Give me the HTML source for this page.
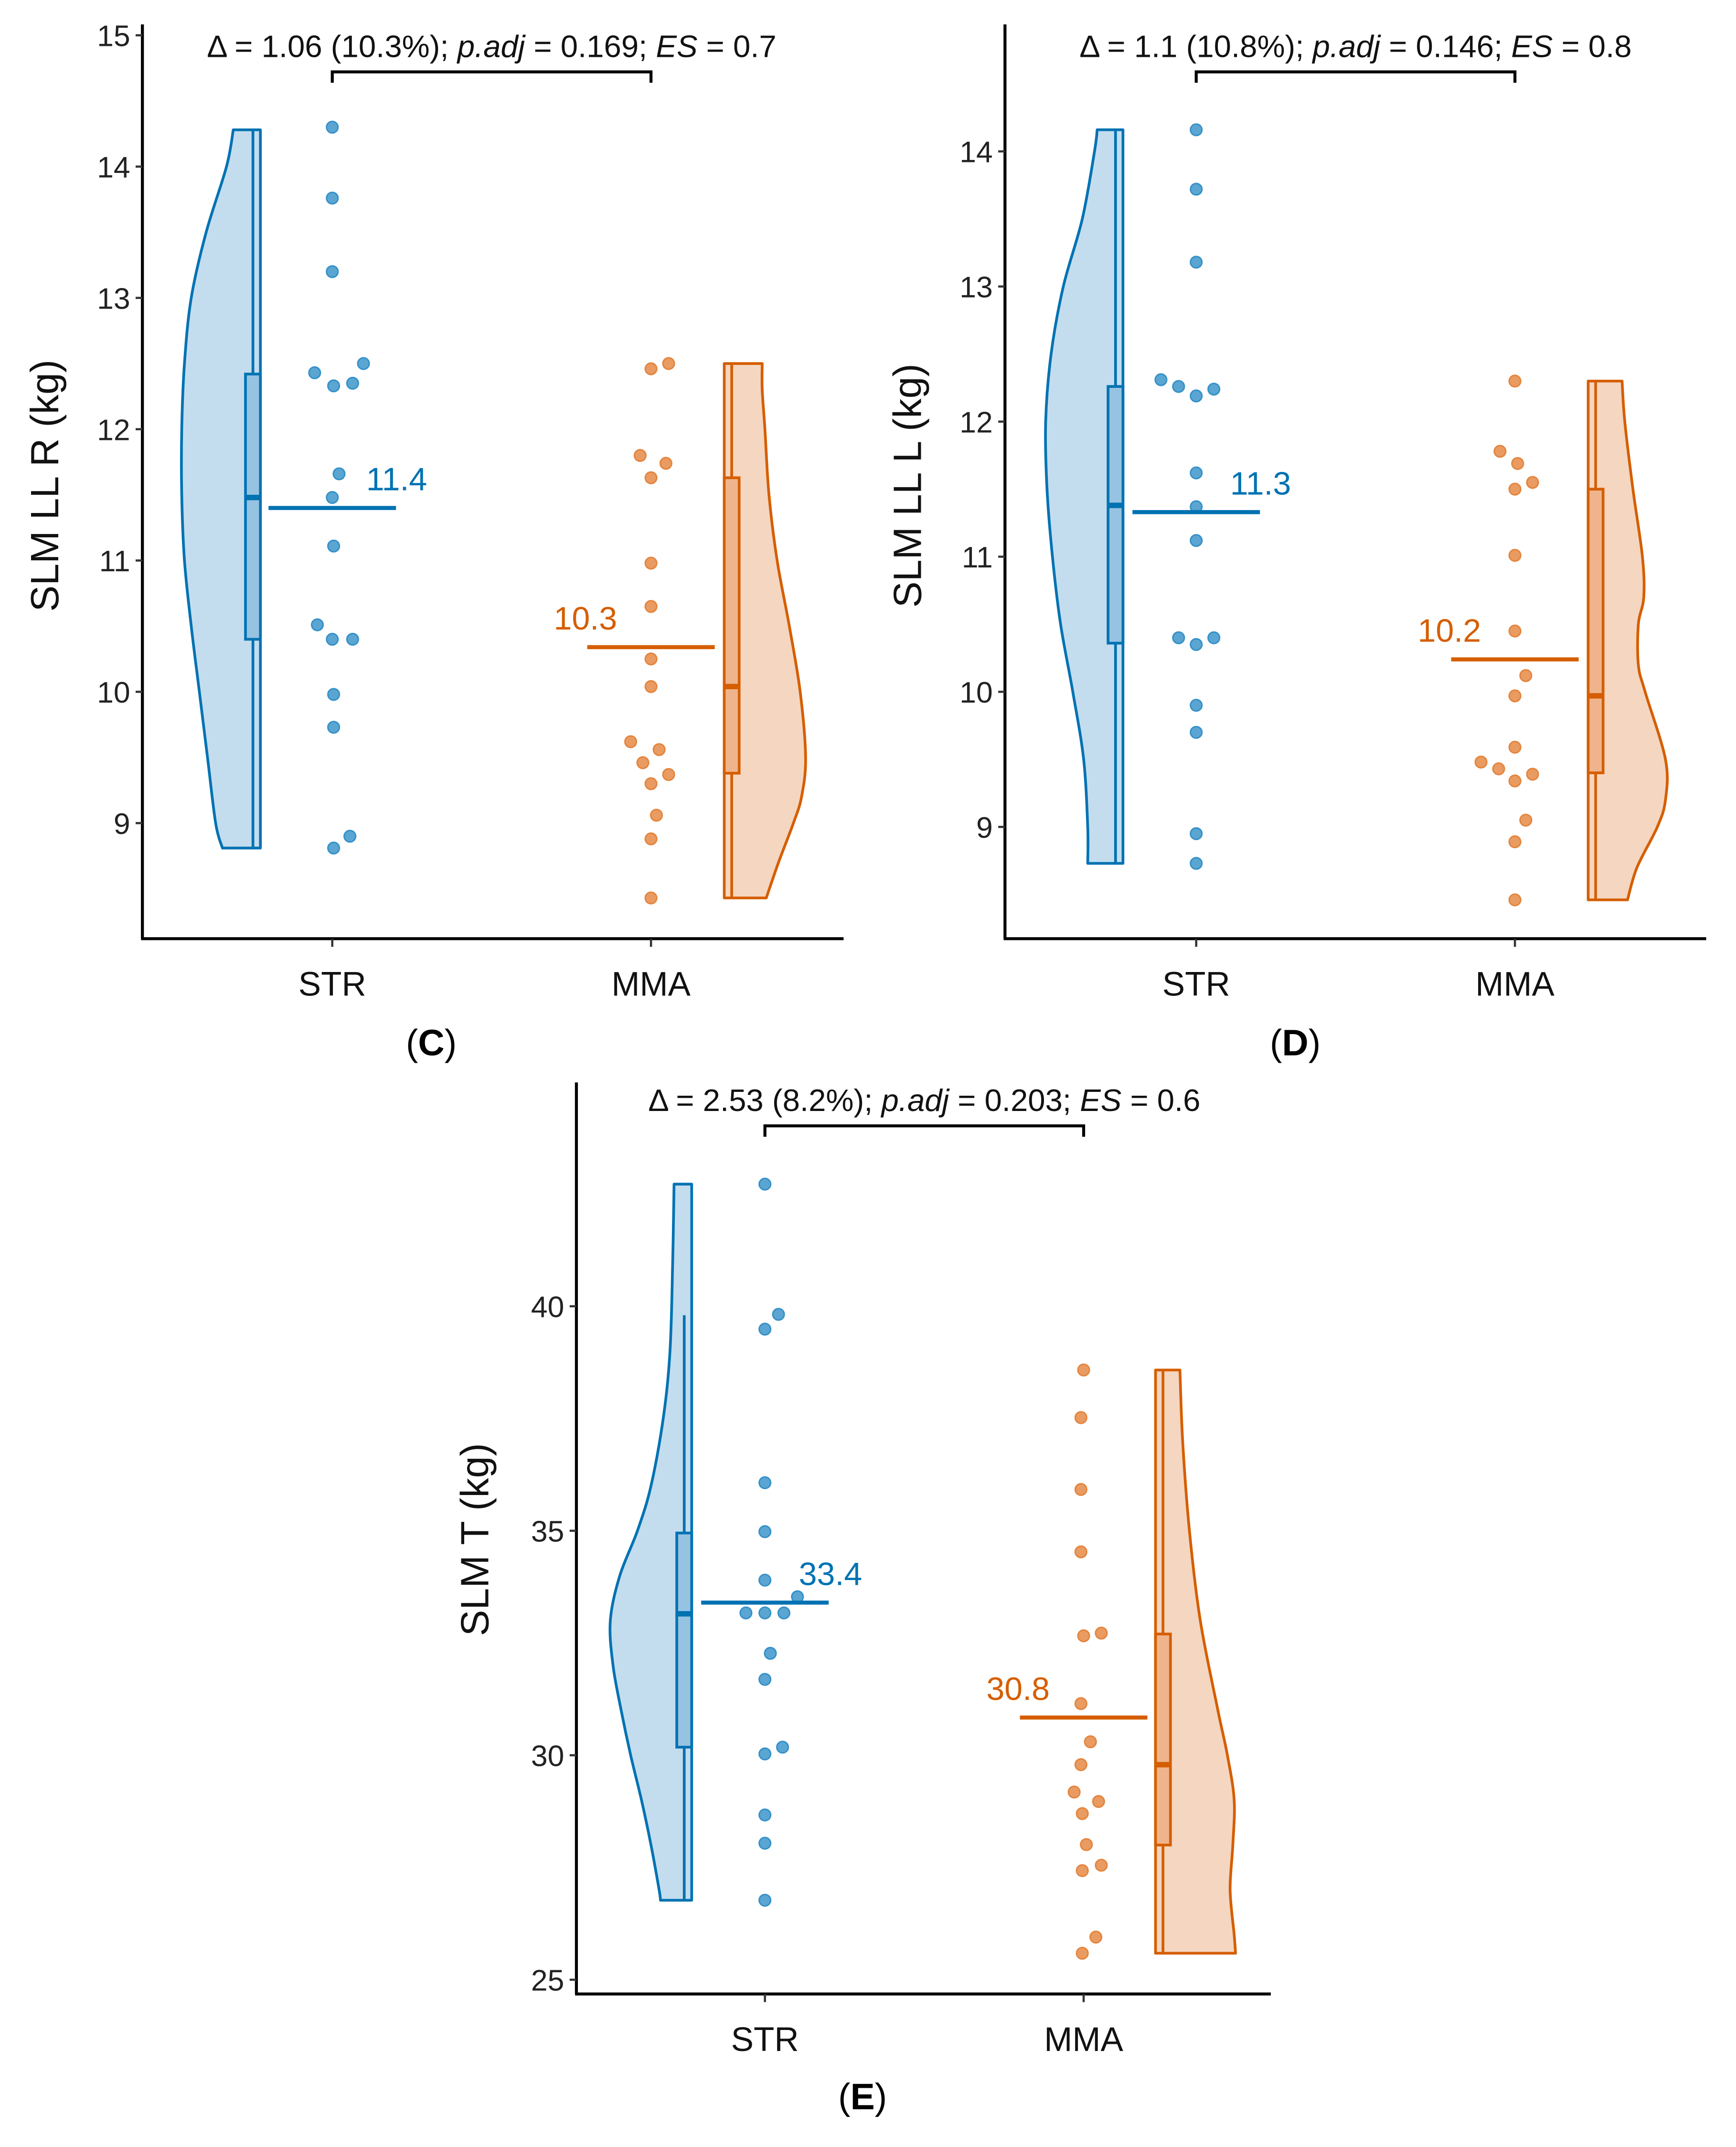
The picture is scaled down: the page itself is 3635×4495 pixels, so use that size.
<!DOCTYPE html>
<html><head><meta charset="utf-8"><style>
html,body{margin:0;padding:0;background:#fff}
svg{display:block}
text{font-family:"Liberation Sans",sans-serif}
</style></head><body>
<svg id="fig" xmlns="http://www.w3.org/2000/svg" width="3635" height="4495" viewBox="0 0 1280 1582.8"></svg>
<script>
// ---- Panel C data ----
const cTicks = [9,10,11,12,13,14,15];
const cStr = [14.30,13.76,13.20,12.43,12.33,12.35,12.50,11.66,11.48,11.11,10.51,10.40,10.40,9.98,9.73,8.90,8.81];
const cStrJit = [0,0,0,-13,1,15,23,5,0,1,-11,0,15,1,1,13,1];
const cMma = [12.46,12.50,11.80,11.74,11.63,10.98,10.65,10.25,10.04,9.62,9.56,9.46,9.37,9.30,9.06,8.88,8.43];
const cMmaJit = [0,13,-8,11,0,0,0,0,0,-15,6,-6,13,0,4,0,0];
const cStrBox = [8.81,10.40,11.48,12.42,14.28];
const cMmaBox = [8.43,9.38,10.04,11.63,12.50];
const cMeans = [11.4,10.34];
const cStrViolin = [[14.28,20],[14,25],[13.5,40],[13,51],[12.5,56],[12,58],[11.5,58],[11,56],[10.5,51],[10,45],[9.5,39],[9,33],[8.81,28]];
const cMmaViolin = [[12.5,28],[12.3,28],[12,30],[11.5,33],[11,39],[10.5,48],[10,56],[9.5,60],[9.2,57],[9,51],[8.7,40],[8.43,31]];
// ---- Panel D data ----
const dTicks = [9,10,11,12,13,14];
const dStr = [14.16,13.72,13.18,12.31,12.26,12.19,12.24,11.62,11.37,11.12,10.40,10.35,10.40,9.90,9.70,8.95,8.73];
const dStrJit = [0,0,0,-26,-13,0,13,0,0,0,-13,0,13,0,0,0,0];
const dMma = [12.30,11.78,11.69,11.50,11.55,11.01,10.45,10.12,9.97,9.59,9.48,9.43,9.34,9.39,9.05,8.89,8.46];
const dMmaJit = [0,-11,2,0,13,0,0,8,0,0,-25,-12,0,13,8,0,0];
const dStrBox = [8.73,10.36,11.38,12.26,14.16];
const dMmaBox = [8.46,9.40,9.97,11.50,12.30];
const dMeans = [11.33,10.24];
const dStrViolin = [[14.16,19],[14,21],[13.5,30],[13,44],[12.5,53],[12,57],[11.5,56],[11,52],[10.5,46],[10,37],[9.5,29],[9,26],[8.73,26]];
const dMmaViolin = [[12.3,25],[12,27],[11.5,33],[11,40],[10.7,41],[10.5,37],[10.2,37],[10,42],[9.5,57],[9.2,57],[9,51],[8.7,36],[8.46,29]];
// ---- Panel E data ----
const eTicks = [25,30,35,40];
const eStr = [42.72,39.82,39.49,36.07,34.98,33.90,33.53,33.17,33.17,33.17,32.27,31.69,30.18,30.03,28.67,28.04,26.77];
const eStrJit = [0,10,0,0,0,0,24,-14,0,14,4,0,13,0,0,0,0];
const eMma = [38.58,37.52,35.92,34.53,32.66,32.72,31.15,30.30,29.79,29.18,28.97,28.70,28.01,27.55,27.43,25.95,25.59];
const eMmaJit = [0,-2,-2,-2,0,13,-2,5,-2,-7,11,-1,2,13,-1,9,-1];
const eStrBox = [26.77,30.18,33.15,34.95,39.8];
const eMmaBox = [25.59,28.0,29.79,32.7,38.58];
const eMeans = [33.4,30.84];
const eStrViolin = [[42.72,13],[41,14],[39,16],[37.5,21],[36,30],[35,40],[34,53],[33,60],[32,58],[31,52],[30,45],[29,37],[28,30],[27,24],[26.77,23]];
const eMmaViolin = [[38.58,18],[37,20],[35,25],[33,33],[31,46],[30,53],[29,58],[28,57],[27,55],[26,58],[25.59,59]];
const labelsC = ["11.4","10.3"], labelsD = ["11.3","10.2"], labelsE = ["33.4","30.8"];

const NS="http://www.w3.org/2000/svg";
const svg=document.getElementById('fig');
const BLUE="#0072B2", ORANGE="#D55E00";
function mk(tag,attrs,parent,txt){const e=document.createElementNS(NS,tag);for(const k in attrs)e.setAttribute(k,attrs[k]);if(txt!==undefined)e.textContent=txt;(parent||svg).appendChild(e);return e;}

function smooth(pts){
  let d=`L${pts[0][0]},${pts[0][1]}`;
  for(let i=0;i<pts.length-1;i++){
    const p0=pts[Math.max(0,i-1)],p1=pts[i],p2=pts[i+1],p3=pts[Math.min(pts.length-1,i+2)];
    const c1=[p1[0]+(p2[0]-p0[0])/6,p1[1]+(p2[1]-p0[1])/6];
    const c2=[p2[0]-(p3[0]-p1[0])/6,p2[1]-(p3[1]-p1[1])/6];
    d+=` C${c1[0]},${c1[1]} ${c2[0]},${c2[1]} ${p2[0]},${p2[1]}`;
  }
  return d;
}

function panel(P){
  const g=mk('g',{});
  
  
  const y=v=>P.y0-(v-P.v0)*P.k;
  const ax=mk('line',{x1:P.ax,y1:P.top,x2:P.ax,y2:P.bottom,stroke:'#000','stroke-width':2.2},g);
  
  const bx=mk('line',{x1:P.ax-1,y1:P.bottom,x2:P.right,y2:P.bottom,stroke:'#000','stroke-width':2.2},g);
  
  P.ticks.forEach(t=>{
    mk('line',{x1:P.ax-5,y1:y(t),x2:P.ax,y2:y(t),stroke:'#333','stroke-width':1.6},g);
    const tl=mk('text',{x:P.ax-9,y:y(t)+8,'text-anchor':'end','font-size':22,fill:'#222'},g,String(t));
    
  });
  [[P.xs,'STR'],[P.xm,'MMA']].forEach(([x,l])=>{
    mk('line',{x1:x,y1:P.bottom,x2:x,y2:P.bottom+6,stroke:'#333','stroke-width':1.6},g);
    const xl=mk('text',{x:x,y:P.bottom+42,'text-anchor':'middle','font-size':25,fill:'#111'},g,l);
    
  });
  const yt=mk('text',{x:0,y:0,transform:`translate(${P.ytx},${P.yty}) rotate(-90)`,'text-anchor':'middle','font-size':29,fill:'#111'},g,P.ytitle);
  
  function violin(arr,base,dir,col,fill,nm){
    const pts=arr.map(([v,w])=>[base+dir*w,y(v)]);
    let d=`M${base},${y(arr[0][0])} `+smooth(pts)+` L${base},${y(arr[arr.length-1][0])} Z`;
    const p=mk('path',{d:d,fill:fill,stroke:col,'stroke-width':2,'stroke-linejoin':'round'},g);
    
  }
  violin(P.sv,P.sbox+P.bw,-1,BLUE,'#c3ddef','violin-str');
  violin(P.mv,P.mbox,1,ORANGE,'#f5d6c0','violin-mma');
  function box(b,x,col,fill,nm){
    const bg=mk('g',{},g);
    const cx=x+P.bw/2;
    mk('line',{x1:cx,y1:y(b[0]),x2:cx,y2:y(b[4]),stroke:col,'stroke-width':2},bg);
    mk('rect',{x:x,y:y(b[3]),width:P.bw,height:y(b[1])-y(b[3]),fill:fill,stroke:col,'stroke-width':2},bg);
    mk('line',{x1:x,y1:y(b[2]),x2:x+P.bw,y2:y(b[2]),stroke:col,'stroke-width':4},bg);
  }
  box(P.sb,P.sbox,BLUE,'#96c3e2','boxplot-str');
  box(P.mb,P.mbox,ORANGE,'#efb48c','boxplot-mma');
  function pts(vals,jit,x,col,nm){
    vals.forEach((v,i)=>{
      const c=mk('circle',{cx:x+jit[i],cy:y(v),r:4.3,fill:col,'fill-opacity':0.72,stroke:col,'stroke-opacity':0.8,'stroke-width':1},g);
      
    });
  }
  pts(P.s,P.sj,P.xs,'#1a82c0','point-str');
  pts(P.m,P.mj,P.xm,'#e07424','point-mma');
  const m1=mk('line',{x1:P.xs-47,y1:y(P.means[0]),x2:P.xs+47,y2:y(P.means[0]),stroke:BLUE,'stroke-width':3},g);
  
  const l1=mk('text',{x:P.xs+25,y:y(P.means[0])-13,'font-size':24,fill:BLUE},g,P.ml[0]);
  
  const m2=mk('line',{x1:P.xm-47,y1:y(P.means[1]),x2:P.xm+47,y2:y(P.means[1]),stroke:ORANGE,'stroke-width':3},g);
  
  const l2=mk('text',{x:P.xm-25,y:y(P.means[1])-13,'text-anchor':'end','font-size':24,fill:ORANGE},g,P.ml[1]);
  
  const br=mk('path',{d:`M${P.xs},${P.by+8} L${P.xs},${P.by} L${P.xm},${P.by} L${P.xm},${P.by+8}`,fill:'none',stroke:'#000','stroke-width':2.2},g);
  
  const an=mk('text',{x:(P.xs+P.xm)/2,y:P.by-11,'text-anchor':'middle','font-size':23,fill:'#111'},g);
  
  P.ann.forEach(([t,it])=>{mk('tspan',it?{'font-style':'italic'}:{},an,t);});
  const pl=mk('text',{x:P.plx,y:P.ply,'text-anchor':'middle','font-size':27,'font-family':'Liberation Serif, serif',fill:'#000'},g);
  
  mk('tspan',{},pl,'(');mk('tspan',{'font-weight':'bold'},pl,P.letter);mk('tspan',{},pl,')');
}

panel({name:'panel-c',v0:10,y0:510,k:96.8,top:18,bottom:692,ax:105,right:622,xs:245,xm:480,ticks:cTicks,
  s:cStr,sj:cStrJit,m:cMma,mj:cMmaJit,sb:cStrBox,mb:cMmaBox,sbox:181,mbox:534,bw:11,sv:cStrViolin,mv:cMmaViolin,
  means:cMeans,ml:labelsC,by:53,ytitle:'SLM LL R (kg)',ytx:43,yty:358,plx:318,ply:778,letter:'C',
  ann:[['Δ = 1.06 (10.3%); ',0],['p.adj',1],[' = 0.169; ',0],['ES',1],[' = 0.7',0]]});
panel({name:'panel-d',v0:10,y0:510,k:99.6,top:18,bottom:692,ax:741,right:1258,xs:882,xm:1117,ticks:dTicks,
  s:dStr,sj:dStrJit,m:dMma,mj:dMmaJit,sb:dStrBox,mb:dMmaBox,sbox:817,mbox:1171,bw:11,sv:dStrViolin,mv:dMmaViolin,
  means:dMeans,ml:labelsD,by:53,ytitle:'SLM LL L (kg)',ytx:679,yty:358,plx:955,ply:778,letter:'D',
  ann:[['Δ = 1.1 (10.8%); ',0],['p.adj',1],[' = 0.146; ',0],['ES',1],[' = 0.8',0]]});
panel({name:'panel-e',v0:30,y0:1294,k:33.1,top:798,bottom:1470,ax:425,right:937,xs:564,xm:799,ticks:eTicks,
  s:eStr,sj:eStrJit,m:eMma,mj:eMmaJit,sb:eStrBox,mb:eMmaBox,sbox:499,mbox:852,bw:11,sv:eStrViolin,mv:eMmaViolin,
  means:eMeans,ml:labelsE,by:830,ytitle:'SLM T (kg)',ytx:360,yty:1135,plx:636,ply:1555,letter:'E',
  ann:[['Δ = 2.53 (8.2%); ',0],['p.adj',1],[' = 0.203; ',0],['ES',1],[' = 0.6',0]]});
</script>
</body></html>
